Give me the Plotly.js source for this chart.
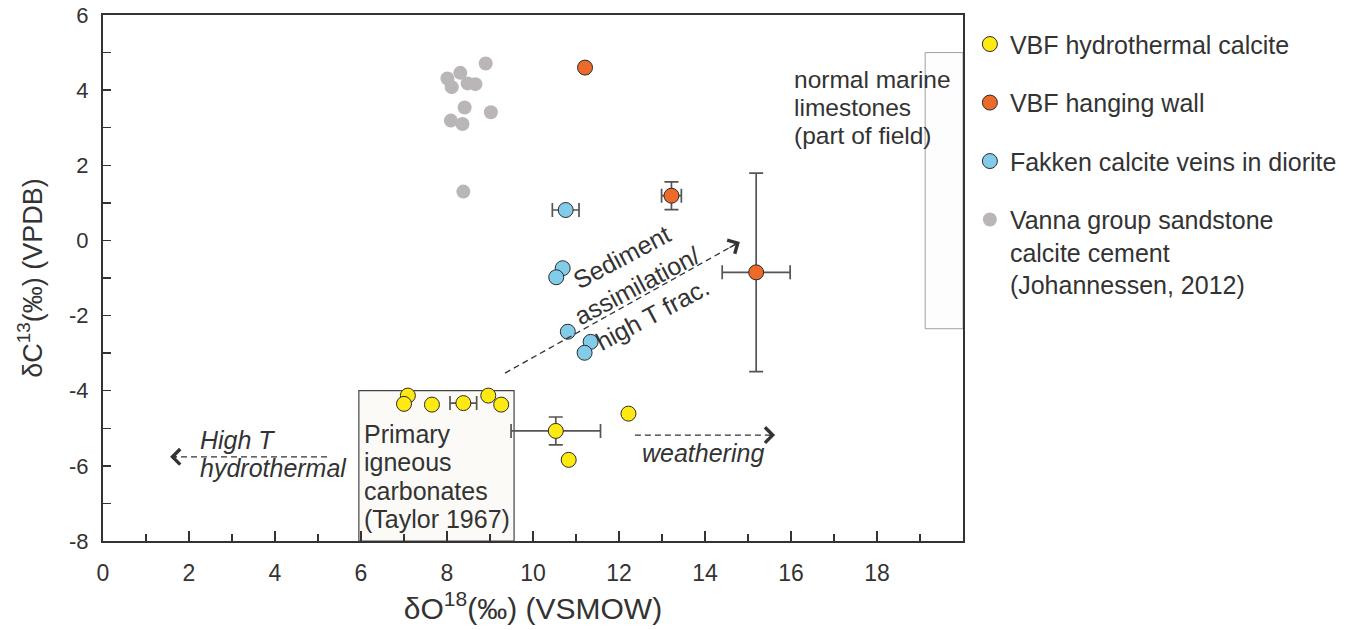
<!DOCTYPE html>
<html>
<head>
<meta charset="utf-8">
<script src="https://cdn.plot.ly/plotly-3.0.1.min.js"></script>
<style>
  html, body { margin: 0; padding: 0; background: #ffffff; }
  #chart { width: 1359px; height: 630px; }
</style>
</head>
<body>
<div id="chart"></div>
<script>
// ---------------- data ----------------
const seriesNames = [
  "VBF hydrothermal calcite",
  "VBF hanging wall",
  "Fakken calcite veins in diorite",
  "Vanna group sandstone<br>calcite cement<br>(Johannessen, 2012)"
];

// VBF hydrothermal calcite (yellow)
const hydroX    = [7.09, 7.00, 7.65, 8.38, 8.96, 9.26, 10.53, 12.22, 10.83];
const hydroY    = [-4.13, -4.35, -4.37, -4.33, -4.13, -4.37, -5.07, -4.61, -5.84];
const hydroErrX = [NaN, NaN, NaN, 0.31, NaN, NaN, 1.04, NaN, NaN];
const hydroErrY = [NaN, NaN, NaN, NaN, NaN, NaN, 0.37, NaN, NaN];

// VBF hanging wall (orange)
const hangX    = [11.21, 13.22, 15.19];
const hangY    = [4.60, 1.19, -0.85];
const hangErrX = [NaN, 0.23, 0.79];
const hangErrY = [NaN, 0.37, 2.64];

// Fakken calcite veins in diorite (blue)
const fakX    = [10.76, 10.69, 10.54, 10.81, 11.34, 11.20];
const fakY    = [0.81, -0.74, -0.98, -2.43, -2.70, -2.99];
const fakErrX = [0.31, NaN, NaN, NaN, NaN, NaN];

// Vanna group sandstone calcite cement (grey)
const vannaX = [8.90, 8.01, 8.31, 8.11, 8.48, 8.66, 8.41, 9.02, 8.09, 8.36, 8.38];
const vannaY = [4.71, 4.31, 4.46, 4.08, 4.18, 4.16, 3.54, 3.41, 3.19, 3.10, 1.30];

// axis ticks
const xTickVals = [0, 2, 4, 6, 8, 10, 12, 14, 16, 18];
const yTickVals = [-8, -6, -4, -2, 0, 2, 4, 6];

// field boxes (data units)
const igneousBox = {x0: 5.95, x1: 9.56, y0: -8, y1: -4.0};
const marineBox  = {x0: 19.12, x1: 20, y0: -2.35, y1: 5.0};

// trend arrows (tail -> tip, data units)
const arrowHighT   = {x0: 5.21, y0: -5.76, x1: 1.56, y1: -5.76};
const arrowWeather = {x0: 12.37, y0: -5.18, x1: 15.63, y1: -5.18};
const arrowSed     = {x0: 9.35, y0: -3.53, x1: 14.81, y1: -0.04};

// ---------------- styling ----------------
const TXT = '#333333';
const FONT = 'Liberation Sans, Arial, sans-serif';
const NARROW = 'Liberation Sans Narrow, Arial Narrow, Liberation Sans, sans-serif';
const errStyle = {color: '#555555', thickness: 1.7, width: 7};

function errArr(arr) { return Object.assign({type: 'data', array: arr, symmetric: true, visible: true}, errStyle); }

const traces = [
  {
    type: 'scatter', mode: 'markers', name: seriesNames[0], legendgroup: 'g1',
    x: hydroX, y: hydroY,
    error_x: errArr(hydroErrX), error_y: errArr(hydroErrY),
    marker: {size: 15, color: '#FFE912', line: {color: '#2b2b2b', width: 1}}
  },
  {
    type: 'scatter', mode: 'markers', name: seriesNames[1], legendgroup: 'g2',
    x: hangX, y: hangY,
    error_x: errArr(hangErrX), error_y: errArr(hangErrY),
    marker: {size: 15, color: '#EC6A2A', line: {color: '#2b2b2b', width: 1}}
  },
  {
    type: 'scatter', mode: 'markers', name: seriesNames[2], legendgroup: 'g3',
    x: fakX, y: fakY,
    error_x: errArr(fakErrX),
    marker: {size: 15, color: '#82CCEA', line: {color: '#2b2b2b', width: 1}}
  },
  {
    type: 'scatter', mode: 'markers', name: seriesNames[3], legendgroup: 'g4',
    x: vannaX, y: vannaY,
    marker: {size: 14, color: '#BAB6B8', line: {width: 0}}
  }
];

const shapes = [
  Object.assign({type: 'rect', xref: 'x', yref: 'y', layer: 'below',
    fillcolor: '#fbfaf7', line: {color: '#444', width: 1.2}}, igneousBox),
  Object.assign({type: 'rect', xref: 'x', yref: 'y', layer: 'below',
    fillcolor: '#fdfdfd', line: {color: '#a0a0a0', width: 1}}, marineBox)
];
[arrowHighT, arrowWeather, arrowSed].forEach(a => {
  shapes.push({type: 'line', xref: 'x', yref: 'y', x0: a.x0, y0: a.y0, x1: a.x1, y1: a.y1,
    line: {color: '#333', width: 1.3, dash: '6px,4px'}});
});

const annotations = [];
// arrow heads: short solid segment ending in a line-drawn chevron at each tip
[arrowHighT, arrowWeather, arrowSed].forEach(a => {
  const f = 0.05;
  annotations.push({
    x: a.x1, y: a.y1, xref: 'x', yref: 'y',
    ax: a.x1 - (a.x1 - a.x0) * f, ay: a.y1 - (a.y1 - a.y0) * f, axref: 'x', ayref: 'y',
    text: '', showarrow: true, arrowhead: 4, arrowsize: 2.3, arrowwidth: 1.3, arrowcolor: '#333'
  });
});

function addLines(lines, x, y, spacing, opts) {
  lines.forEach((t, i) => {
    annotations.push(Object.assign({
      text: t, x: x, y: y, xref: 'x', yref: 'y', showarrow: false,
      xanchor: 'left', yanchor: 'middle', yshift: -i * spacing,
      font: {family: FONT, size: 25, color: TXT}
    }, opts || {}));
  });
}

addLines(['Primary', 'igneous', 'carbonates', '(Taylor 1967)'], 6.02, -5.15, 28.5);
addLines(['normal marine', 'limestones', '(part of field)'], 16.02, 4.28, 28,
         {font: {family: FONT, size: 24.5, color: TXT}});
addLines(['<i>High T</i>', '<i>hydrothermal</i>'], 2.2, -5.32, 27.5);
addLines(['<i>weathering</i>'], 12.48, -5.67, 0);

annotations.push({
  text: 'Sediment<br>assimilation/<br>high T frac.', x: 12.42, y: -1.19, xref: 'x', yref: 'y',
  showarrow: false, textangle: -28, align: 'center', xanchor: 'center', yanchor: 'middle',
  font: {family: FONT, size: 25, color: TXT}
});

const layout = {
  width: 1359, height: 630,
  margin: {l: 103, r: 396, t: 15, b: 89},
  paper_bgcolor: '#ffffff', plot_bgcolor: '#ffffff',
  showlegend: true,
  legend: {
    x: 1.008, xanchor: 'left', y: 0.988, yanchor: 'top',
    font: {family: FONT, size: 25, color: TXT},
    traceorder: 'grouped', tracegroupgap: 23, valign: 'top',
    bgcolor: 'rgba(0,0,0,0)', itemwidth: 30
  },
  xaxis: {
    range: [0, 20], tickvals: xTickVals, ticktext: xTickVals.map(String),
    ticks: 'inside', ticklen: 10, tickwidth: 1.3, tickcolor: '#333',
    minor: {dtick: 1, tick0: 0, ticks: 'inside', ticklen: 7, tickwidth: 1.3, tickcolor: '#333', showgrid: false},
    showline: true, linecolor: '#333', linewidth: 2, mirror: true,
    showgrid: false, zeroline: false, ticklabelstandoff: 10,
    tickfont: {family: NARROW, size: 23, color: TXT},
    title: {text: 'δO<sup>18</sup>(‰) (VSMOW)', font: {family: NARROW, size: 30, color: TXT}, standoff: 13}
  },
  yaxis: {
    range: [-8, 6], tickvals: yTickVals, ticktext: yTickVals.map(String),
    ticks: 'inside', ticklen: 8, tickwidth: 1.3, tickcolor: '#333',
    minor: {dtick: 1, tick0: 0, ticks: 'inside', ticklen: 8, tickwidth: 1.3, tickcolor: '#333', showgrid: false},
    showline: true, linecolor: '#333', linewidth: 2, mirror: true,
    showgrid: false, zeroline: false, ticklabelstandoff: 8,
    tickfont: {family: FONT, size: 22, color: TXT},
    title: {text: 'δC<sup>13</sup>(‰) (VPDB)', font: {family: FONT, size: 27, color: TXT}, standoff: 19}
  },
  shapes: shapes,
  annotations: annotations
};

Plotly.newPlot('chart', traces, layout, {displayModeBar: false, staticPlot: true});
</script>
</body>
</html>
